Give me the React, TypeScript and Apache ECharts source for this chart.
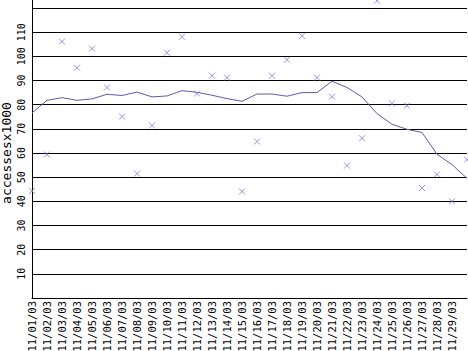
import React, { useEffect, useRef } from "react";
import * as echarts from "echarts";

const categories = [
  "11/01/03", "11/02/03", "11/03/03", "11/04/03", "11/05/03", "11/06/03", "11/07/03", "11/08/03",
  "11/09/03", "11/10/03", "11/11/03", "11/12/03", "11/13/03", "11/14/03", "11/15/03", "11/16/03",
  "11/17/03", "11/18/03", "11/19/03", "11/20/03", "11/21/03", "11/22/03", "11/23/03", "11/24/03",
  "11/25/03", "11/26/03", "11/27/03", "11/28/03", "11/29/03", "11/30/03",
];

const dailyAccesses = [
  44.3, 59.4, 106.1, 95.3, 103.2, 87.1, 75.1, 51.5, 71.4, 101.5, 108.1, 84.6, 92.0, 91.2, 44.1,
  64.8, 92.0, 98.6, 108.5, 91.2, 83.3, 54.8, 66.1, 123.0, 80.5, 79.6, 45.5, 51.1, 40.0, 57.3,
];

const trendAccesses = [
  76.6, 81.8, 82.9, 81.8, 82.4, 84.3, 83.8, 85.2, 83.2, 83.6, 85.8, 85.1, 83.9, 82.5, 81.4,
  84.4, 84.4, 83.5, 85.0, 85.0, 89.7, 87.1, 83.2, 76.3, 71.9, 69.8, 68.5, 59.5, 55.2, 49.5,
];

const yTickLabels = ["10", "20", "30", "40", "50", "60", "70", "80", "90", "100", "110"];

const FONT = "DejaVu Sans Mono";

export default function App() {
  const ref = useRef<HTMLDivElement>(null);
  useEffect(() => {
    if (!ref.current) return;
    const chart = echarts.init(ref.current, undefined, { renderer: "svg" });
    chart.setOption({
      animation: false,
      backgroundColor: "#ffffff",
      grid: {
        left: 32,
        right: 1,
        top: 8,
        bottom: 53,
        containLabel: false,
        outerBoundsMode: "none",
      },
      xAxis: {
        type: "category",
        data: categories,
        boundaryGap: false,
        axisLine: { show: true, lineStyle: { color: "#000", width: 1 } },
        axisTick: { show: false },
        axisLabel: {
          rotate: 90,
          margin: 3,
          fontFamily: FONT,
          fontSize: 10.5,
          color: "#000",
          interval: (index: number) => index < categories.length - 1,
        },
        splitLine: { show: false },
      },
      yAxis: {
        type: "value",
        min: 0,
        max: 120,
        interval: 10,
        name: "accessesx1000",
        nameLocation: "middle",
        nameRotate: 90,
        nameGap: 19,
        nameMoveOverlap: false,
        nameTextStyle: { fontFamily: FONT, fontSize: 13, color: "#000" },
        axisLine: { show: true, lineStyle: { color: "#000", width: 1 } },
        axisTick: { show: false },
        axisLabel: {
          rotate: 90,
          margin: 6,
          fontFamily: FONT,
          fontSize: 10,
          color: "#000",
          formatter: (v: number) => (yTickLabels.includes(String(v)) ? String(v) : ""),
        },
        splitLine: { show: true, lineStyle: { color: "#000", width: 1 } },
      },
      graphic: [
        {
          type: "line",
          shape: { x1: 32.5, y1: 0, x2: 32.5, y2: 8 },
          style: { stroke: "#000", lineWidth: 1 },
        },
      ],
      series: [
        {
          type: "line",
          data: trendAccesses,
          showSymbol: false,
          symbol: "none",
          smooth: false,
          lineStyle: { color: "#6a56b0", width: 1 },
          z: 3,
        },
        {
          type: "scatter",
          data: dailyAccesses,
          clip: false,
          symbol: "path://M0,0L10,10M10,0L0,10",
          symbolSize: 6,
          itemStyle: { color: "none", borderColor: "#8a6fd9", borderWidth: 1 },
          z: 4,
        },
      ],
    });
    return () => chart.dispose();
  }, []);
  return (
    <div
      ref={ref}
      style={{ position: "fixed", left: 0, top: 0, width: 468, height: 351 }}
    />
  );
}
